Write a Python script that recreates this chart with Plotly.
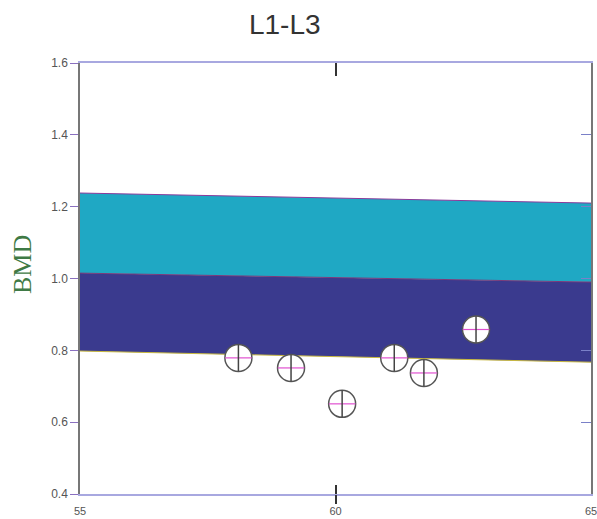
import plotly.graph_objects as go

# Reference band (x = age, y = BMD)
band_x = [55, 65]
band_low = [0.798, 0.767]
band_mid = [1.015, 0.990]
band_high = [1.238, 1.210]

# Patient measurements
age = [58.1, 59.13, 60.13, 61.15, 61.73, 62.75]
bmd = [0.779, 0.751, 0.651, 0.779, 0.737, 0.858]

x_ticks = [55, 60, 65]
y_ticks = [0.4, 0.6, 0.8, 1.0, 1.2, 1.4, 1.6]

fig = go.Figure()
fig.add_trace(go.Scatter(x=band_x, y=band_low, mode="lines",
                         line=dict(color="#c8b840", width=1), showlegend=False, hoverinfo="skip"))
fig.add_trace(go.Scatter(x=band_x, y=band_mid, mode="lines", fill="tonexty",
                         fillcolor="#3a3a8e", line=dict(color="#7a3a7a", width=1),
                         showlegend=False, hoverinfo="skip"))
fig.add_trace(go.Scatter(x=band_x, y=band_high, mode="lines", fill="tonexty",
                         fillcolor="#1fa8c4", line=dict(color="#8a3a9a", width=1),
                         showlegend=False, hoverinfo="skip"))
fig.add_trace(go.Scatter(x=age, y=bmd, mode="markers", showlegend=False,
                         marker=dict(symbol="circle", size=27, color="white",
                                     line=dict(color="#555555", width=1.5))))
fig.add_trace(go.Scatter(x=age, y=bmd, mode="markers", showlegend=False,
                         marker=dict(symbol="line-ew", size=19,
                                     line=dict(color="#e050d0", width=1.2))))
fig.add_trace(go.Scatter(x=age, y=bmd, mode="markers", showlegend=False,
                         marker=dict(symbol="line-ns", size=19,
                                     line=dict(color="#444444", width=1.5))))
# invisible traces to attach the extra tick axes
fig.add_trace(go.Scatter(x=[55], y=[0.4], yaxis="y2", mode="markers",
                         marker=dict(opacity=0), showlegend=False, hoverinfo="skip"))
for ax in ["x2", "x3"]:
    fig.add_trace(go.Scatter(x=[55], y=[0.4], xaxis=ax, mode="markers",
                             marker=dict(opacity=0), showlegend=False, hoverinfo="skip"))

tick_font = dict(family="Liberation Sans, Arial", size=12, color="#555555")

fig.update_layout(
    width=597, height=519,
    paper_bgcolor="white", plot_bgcolor="white",
    margin=dict(l=80, r=6, t=63, b=25, autoexpand=False),
    title=dict(text="L1-L3", x=0.477, xanchor="center", y=0.953, yanchor="middle",
               font=dict(family="Liberation Sans, Arial", size=28, color="#333333")),
    xaxis=dict(range=[55, 65], tickvals=x_ticks, ticktext=[str(v) for v in x_ticks],
               showgrid=False, zeroline=False, ticks="inside", ticklen=9, tickwidth=1.5,
               tickcolor="#333333", showline=True, linecolor="#a8a8e0", linewidth=1.5,
               mirror=True, automargin=False, ticklabelstandoff=6,
               ticklabeloverflow="allow",
               tickfont=dict(family="Liberation Sans, Arial", size=11, color="#555555")),
    xaxis2=dict(range=[55, 65], tickvals=[60], overlaying="x", side="top",
                showgrid=False, zeroline=False, ticks="inside", ticklen=13, tickwidth=1.5,
                tickcolor="#333333", showticklabels=False, showline=False, automargin=False),
    xaxis3=dict(range=[55, 65], tickvals=[60], overlaying="x", side="bottom",
                showgrid=False, zeroline=False, ticks="outside", ticklen=9, tickwidth=1.5,
                tickcolor="#333333", showticklabels=False, showline=False, automargin=False),
    yaxis=dict(range=[0.4, 1.6], tickvals=y_ticks, tickformat=".1f",
               showgrid=False, zeroline=False, ticks="outside", ticklen=8, tickwidth=1,
               tickcolor="#8a70c0", showline=True, linecolor="#777777", linewidth=1.5,
               mirror=True, automargin=False, tickfont=tick_font),
    yaxis2=dict(range=[0.4, 1.6], tickvals=y_ticks, overlaying="y", side="right",
                showgrid=False, zeroline=False, ticks="inside", ticklen=10, tickwidth=1,
                tickcolor="#7a80c8", showticklabels=False, showline=False, automargin=False),
    annotations=[dict(text="BMD", textangle=-90, showarrow=False,
                      xref="paper", yref="paper",
                      x=(22 - 80) / 511, y=(494 - 265) / 431,
                      xanchor="center", yanchor="middle",
                      font=dict(family="Liberation Serif, Times New Roman", size=26,
                                color="#3f7a45"))],
)

fig.write_html("out.html", config={"displayModeBar": False},
               post_script="document.body.style.margin='0';")
